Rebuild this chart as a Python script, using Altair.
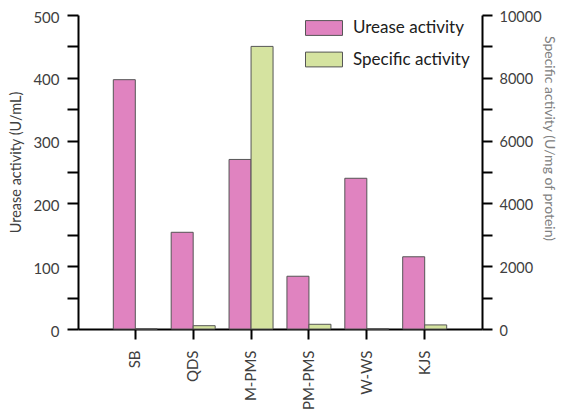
import altair as alt
import pandas as pd

categories = ["SB", "QDS", "M-PMS", "PM-PMS", "W-WS", "KJS"]
urease_activity = [397, 154, 270, 84, 240, 115]
specific_activity = [0, 105, 9000, 150, 0, 130]
series_names = ["Urease activity", "Specific activity"]
series_colors = ["#E083C0", "#D5E3A0"]

left_ticks = list(range(0, 501, 50))
right_ticks = list(range(0, 10001, 1000))

df_u = pd.DataFrame({"cat": categories, "value": urease_activity, "series": series_names[0]})
df_s = pd.DataFrame({"cat": categories, "value": specific_activity, "series": series_names[1]})

FONT = "Lato"

x_enc = alt.X(
    "cat:N",
    sort=categories,
    title=None,
    scale=alt.Scale(paddingInner=0.24, paddingOuter=0.61),
    axis=alt.Axis(
        labelAngle=-90,
        labelFontSize=15,
        labelColor="#404040",
        labelFont=FONT,
        labelPadding=11,
        tickSize=10,
        tickWidth=2,
        tickColor="black",
        domainColor="black",
        domainWidth=2,
        grid=False,
    ),
)

color_enc = alt.Color(
    "series:N",
    scale=alt.Scale(domain=series_names, range=series_colors),
    legend=alt.Legend(
        title=None,
        orient="none",
        legendX=236,
        legendY=3,
        symbolType="M-2,-0.8L2,-0.8L2,0.8L-2,0.8Z",
        symbolSize=342,
        symbolStrokeColor="#555555",
        symbolStrokeWidth=1,
        symbolOpacity=1,
        labelFontSize=17,
        labelFont=FONT,
        labelColor="#202020",
        labelOffset=19,
        rowPadding=11.5,
        padding=0,
        labelLimit=300,
    ),
)

left = alt.Chart(df_u).mark_bar(width=22, xOffset=-11, stroke="#555555", strokeWidth=1).encode(
    x=x_enc,
    y=alt.Y(
        "value:Q",
        scale=alt.Scale(domain=[0, 500], nice=False),
        axis=alt.Axis(
            title="Urease activity (U/mL)",
            values=left_ticks,
            labelExpr="datum.value % 100 == 0 ? datum.label : ''",
            labelFontSize=15,
            labelFont=FONT,
            labelColor="#404040",
            labelPadding=8,
            labelOffset=2,
            tickSize=11,
            tickWidth=2,
            tickColor="black",
            domainColor="black",
            domainWidth=2,
            grid=False,
            titleFont=FONT,
            titleFontSize=14.5,
            titleFontWeight="normal",
            titleColor="#404040",
            titlePadding=9,
            titleY=147,
        ),
    ),
    color=color_enc,
)

right = alt.Chart(df_s).mark_bar(width=22, xOffset=11, stroke="#555555", strokeWidth=1).encode(
    x=x_enc,
    y=alt.Y(
        "value:Q",
        scale=alt.Scale(domain=[0, 10000], nice=False),
        axis=alt.Axis(
            orient="right",
            title="Specific activity (U/mg of protein)",
            values=right_ticks,
            labelExpr="datum.value % 2000 == 0 ? datum.label : ''",
            format="d",
            labelFontSize=14.5,
            labelFont=FONT,
            labelColor="#404040",
            labelPadding=7,
            labelOffset=2,
            tickSize=10,
            tickWidth=2,
            tickColor="black",
            domainColor="black",
            domainWidth=2,
            grid=False,
            titleFont=FONT,
            titleFontSize=14,
            titleFontWeight="normal",
            titleColor="#808080",
            titlePadding=0,
            titleY=123,
        ),
    ),
    color=color_enc,
)

chart = (
    alt.layer(left, right)
    .resolve_scale(y="independent")
    .properties(
        width=404,
        height=314,
        padding={"left": 70, "top": 7, "right": 77, "bottom": 83},
        autosize=alt.AutoSizeParams(type="none"),
        background="white",
    )
    .configure_view(stroke=None)
)

chart.save("out.html", embed_options={"renderer": "svg", "actions": False})
